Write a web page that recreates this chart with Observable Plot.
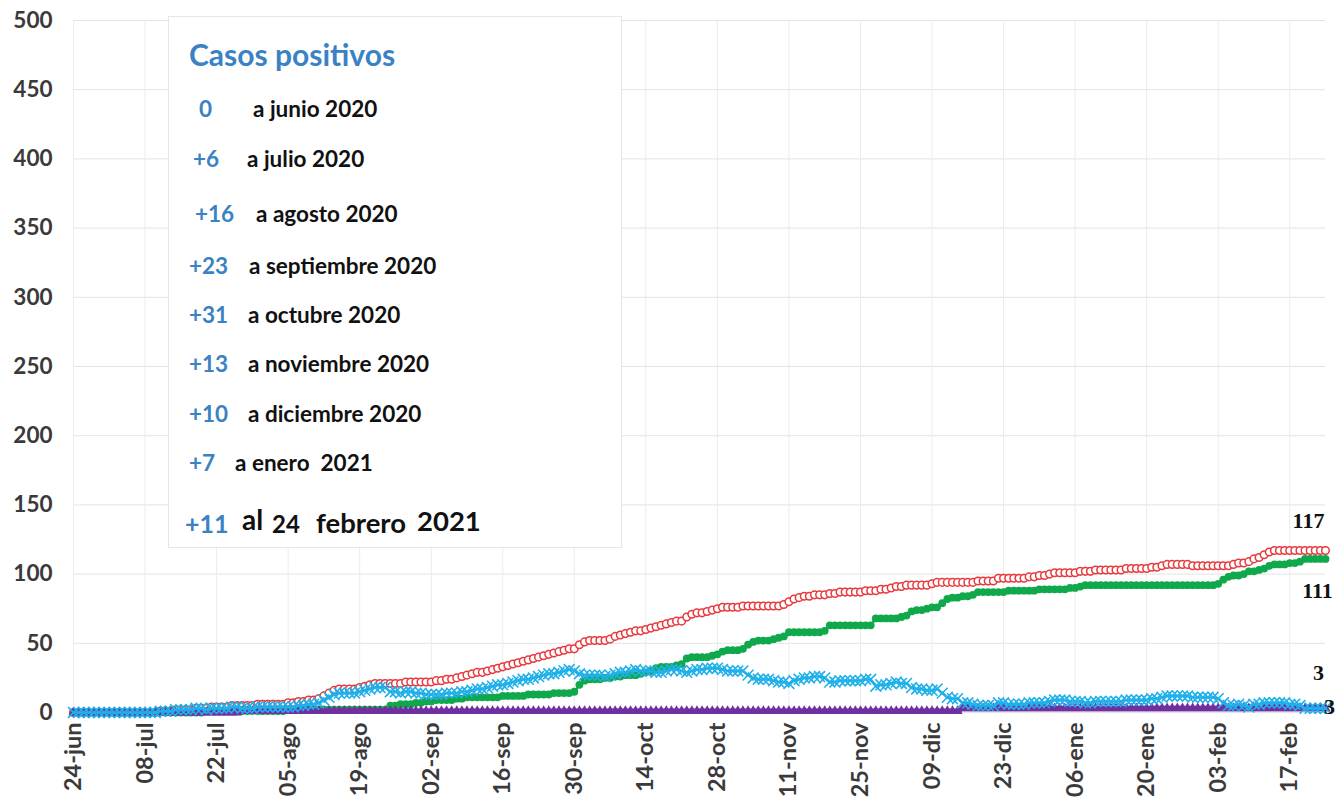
<!DOCTYPE html>
<html>
<head>
<meta charset="utf-8">
<script src="https://cdn.jsdelivr.net/npm/d3@7"></script>
<script src="https://cdn.jsdelivr.net/npm/@observablehq/plot@0.6"></script>
<style>
  body { margin: 0; background: #fff; }
  #wrap { position: relative; width: 1338px; height: 798px; overflow: hidden; }
  #wrap svg.overlay { position: absolute; left: 0; top: 0; pointer-events: none; }
  g[aria-label="x-axis tick label"] text, g[aria-label="y-axis tick label"] text { font-weight: bold; }
</style>
</head>
<body>
<div id="wrap"></div>
<script>
// ---------- DATA (daily, 24-jun-2020 .. 24-feb-2021) ----------
const startDate = "2020-06-24";
const endDate = "2021-02-24";

// Casos positivos acumulados (rojo, círculos abiertos)
const casos = [
  0,0,0,0,0,0,0,
  0,0,0,0,0,0,0,0,0,0,1,1,1,2,2,2,2,3,3,3,4,4,4,4,5,5,5,5,5,6,6,
  6,6,6,6,7,7,8,8,9,9,10,12,14,16,17,17,17,17,18,19,20,21,21,21,21,21,21,22,22,22,22,
  22,22,23,23,24,24,25,26,27,28,29,29,30,31,32,33,34,35,36,37,38,39,40,41,42,43,44,45,46,46,
  49,51,52,52,52,52,53,55,56,57,58,59,59,60,61,62,63,64,65,66,66,69,71,72,72,73,74,75,76,76,76,
  76,77,77,77,77,77,77,77,77,78,80,82,83,84,84,85,85,85,86,86,87,87,87,87,87,88,88,88,89,89,
  90,91,91,92,92,92,92,92,93,94,94,94,94,94,94,94,94,95,95,95,95,97,97,97,97,97,97,98,98,99,99,
  100,101,101,101,101,101,102,102,102,103,103,103,103,103,103,104,104,104,104,104,105,105,106,107,107,107,107,107,106,106,106,
  106,106,106,106,106,107,108,108,109,111,112,114,116,117,117,117,117,117,117,117,117,117,117,117
];

// Recuperados (verde, círculos llenos)
const recuperados = [
  0,0,0,0,0,0,0,
  0,0,0,0,0,0,0,0,0,0,0,0,0,0,0,0,0,0,0,1,1,1,1,1,1,1,1,1,1,1,1,
  1,1,1,1,2,2,2,2,2,2,2,2,2,2,2,2,2,2,2,2,2,2,2,2,5,5,6,6,6,7,7,
  8,8,9,9,9,9,10,10,11,11,11,11,11,11,11,12,12,12,12,12,13,13,13,13,13,14,14,14,14,15,
  20,23,24,24,24,25,25,26,26,27,27,27,28,29,30,32,33,33,33,34,35,39,40,40,40,40,41,42,44,45,45,
  45,46,49,51,52,52,52,53,54,55,58,58,58,58,58,58,58,59,63,63,63,63,63,63,63,63,63,68,68,68,
  68,68,69,70,73,74,74,75,76,76,79,82,83,83,84,84,85,87,87,87,87,87,87,88,88,88,88,88,88,89,89,
  89,89,89,89,90,90,91,92,92,92,92,92,92,92,92,92,92,92,92,92,92,92,92,92,92,92,92,92,92,92,92,
  92,92,93,96,98,99,99,100,102,102,103,104,106,107,107,107,108,108,109,111,111,111,111,111
];

// Activos (celeste, cruces)
const activos = [
  0,0,0,0,0,0,0,
  0,0,0,0,0,0,0,0,0,0,1,1,1,2,2,2,2,3,3,2,3,3,3,3,4,4,3,3,3,4,4,
  4,4,4,4,4,4,5,5,6,6,7,9,11,13,14,14,14,14,15,16,17,18,18,18,15,15,14,15,15,14,14,
  13,13,13,13,14,14,14,15,15,16,17,17,18,19,20,20,21,22,23,24,24,25,26,27,28,28,29,30,31,30,
  28,27,27,27,27,26,27,28,29,29,30,31,30,30,30,29,29,30,31,31,30,29,30,31,31,32,32,32,31,30,30,
  30,30,27,25,24,24,24,23,22,22,21,23,24,25,25,26,26,25,22,22,23,23,23,23,23,24,24,19,20,20,
  21,22,21,21,18,17,17,16,16,17,14,11,10,10,7,7,6,5,5,5,5,7,7,6,6,6,6,7,7,7,7,
  8,9,9,9,8,8,8,7,7,8,8,8,8,8,8,9,9,9,9,9,10,10,11,12,12,12,12,12,11,11,11,
  11,11,10,7,5,5,6,5,4,6,6,7,7,7,7,7,6,6,5,3,3,3,3,3
];

// Fallecidos (morado, triángulos)
const fallecidos = [
  0,0,0,0,0,0,0,
  0,0,0,0,0,0,0,0,0,0,0,0,0,0,0,0,0,0,0,0,0,0,0,0,0,0,1,1,1,1,1,
  1,1,1,1,1,1,1,1,1,1,1,1,1,1,1,1,1,1,1,1,1,1,1,1,1,1,1,1,1,1,1,
  1,1,1,1,1,1,1,1,1,1,1,1,1,1,1,1,1,1,1,1,1,1,1,1,1,1,1,1,1,1,
  1,1,1,1,1,1,1,1,1,1,1,1,1,1,1,1,1,1,1,1,1,1,1,1,1,1,1,1,1,1,1,
  1,1,1,1,1,1,1,1,1,1,1,1,1,1,1,1,1,1,1,1,1,1,1,1,1,1,1,1,1,1,
  1,1,1,1,1,1,1,1,1,1,1,1,1,1,3,3,3,3,3,3,3,3,3,3,3,3,3,3,3,3,3,
  3,3,3,3,3,3,3,3,3,3,3,3,3,3,3,3,3,3,3,3,3,3,3,3,3,3,3,3,3,3,3,
  3,3,3,3,3,3,3,3,3,3,3,3,3,3,3,3,3,3,3,3,3,3,3,3
];

// Ticks
const tickDates = ["2020-06-24","2020-07-08","2020-07-22","2020-08-05","2020-08-19","2020-09-02",
  "2020-09-16","2020-09-30","2020-10-14","2020-10-28","2020-11-11","2020-11-25","2020-12-09",
  "2020-12-23","2021-01-06","2021-01-20","2021-02-03","2021-02-17"];
const tickLabels = ["24-jun","08-jul","22-jul","05-ago","19-ago","02-sep","16-sep","30-sep","14-oct",
  "28-oct","11-nov","25-nov","09-dic","23-dic","06-ene","20-ene","03-feb","17-feb"];
const yTicks = [0,50,100,150,200,250,300,350,400,450,500];

// Legend text box
const legendTitle = "Casos positivos";
const legendNums = ["0","+6","+16","+23","+31","+13","+10","+7"];
const legendTexts = ["a junio 2020","a julio 2020","a agosto 2020","a septiembre 2020","a octubre 2020",
  "a noviembre 2020","a diciembre 2020","a enero  2021"];
const legendLast = ["+11","al","24","febrero","2021"];

// ---------- BUILD ----------
const parse = d3.utcParse("%Y-%m-%d");
const dates = d3.utcDay.range(parse(startDate), d3.utcDay.offset(parse(endDate), 1));
if ([casos, recuperados, activos, fallecidos].some(a => a.length !== dates.length)) {
  console.error("length mismatch", dates.length, casos.length, recuperados.length, activos.length, fallecidos.length);
}
const rows = dates.map((d, i) => ({date: d, casos: casos[i], recuperados: recuperados[i], activos: activos[i], fallecidos: fallecidos[i]}));
const last = rows[rows.length - 1];
const tickObjs = tickDates.map(parse);
const labelMap = new Map(tickObjs.map((d, i) => [+d, tickLabels[i]]));

const RED = "#e8383d", GREEN = "#0fa84a", CYAN = "#1fb0ea", PURPLE = "#7030a0";
const W = 1338, H = 798;
const endFont = {fontSize: 22, fontWeight: "bold", fontFamily: "Liberation Serif, serif", fill: "#111"};

const chart = Plot.plot({
  width: W, height: H,
  marginLeft: 73, marginRight: 13, marginTop: 20, marginBottom: 86,
  x: {type: "utc", domain: [parse(startDate), parse(endDate)]},
  y: {domain: [0, 500]},
  style: {fontFamily: "Lato, sans-serif", background: "white", color: "#404040", overflow: "visible"},
  marks: [
    Plot.gridY(yTicks, {stroke: "#e3e3e3", strokeOpacity: 1}),
    Plot.gridX(tickObjs, {stroke: "#ececec", strokeOpacity: 1}),
    Plot.axisY(yTicks, {tickSize: 0, tickPadding: 21, fontSize: 22.5, fontWeight: "bold", fill: "#3a3a3a", label: null}),
    Plot.axisX(tickObjs, {tickFormat: d => labelMap.get(+d), tickRotate: -90, tickSize: 0, tickPadding: 10,
      fontSize: 23.5, fontWeight: "bold", fill: "#3a3a3a", label: null}),
    // Casos
    Plot.line(rows, {x: "date", y: "casos", stroke: RED, strokeWidth: 1.3}),
    Plot.dot(rows, {x: "date", y: "casos", fill: "white", stroke: RED, strokeWidth: 1.5, r: 3.8}),
    // Recuperados
    Plot.line(rows, {x: "date", y: "recuperados", stroke: GREEN, strokeWidth: 2.2}),
    Plot.dot(rows, {x: "date", y: "recuperados", fill: GREEN, r: 3.9}),
    // Fallecidos
    Plot.line(rows, {x: "date", y: "fallecidos", stroke: PURPLE, strokeWidth: 5}),
    Plot.dot(rows, {x: "date", y: "fallecidos", symbol: "triangle", fill: PURPLE, r: 3.8}),
    // Activos
    Plot.line(rows, {x: "date", y: "activos", stroke: CYAN, strokeWidth: 2.2}),
    Plot.dot(rows, {x: "date", y: "activos", symbol: "times", stroke: CYAN, strokeWidth: 1.6, r: 5}),
    // End labels
    Plot.text([last], {x: "date", y: "casos", text: d => String(d.casos), dx: -17, dy: -30, ...endFont}),
    Plot.text([last], {x: "date", y: "recuperados", text: d => String(d.recuperados), dx: -8, dy: 32, ...endFont}),
    Plot.text([last], {x: "date", y: "activos", text: d => String(d.activos), dx: -7, dy: -35, ...endFont}),
    Plot.text([last], {x: "date", y: "fallecidos", text: d => String(d.fallecidos), dx: 4, dy: -1, ...endFont})
  ]
});
const wrap = document.getElementById("wrap");
wrap.appendChild(chart);

// ---------- Legend / annotation box (overlay) ----------
const BLUE = "#3a82c4";
const ov = d3.select(wrap).append("svg").attr("class", "overlay")
  .attr("width", W).attr("height", H)
  .style("font-family", "Lato, sans-serif").style("font-weight", "bold");
ov.append("rect").attr("x", 168.5).attr("y", 16.5).attr("width", 453).attr("height", 531)
  .attr("fill", "#fff").attr("stroke", "#e6e6e6");
ov.append("text").attr("x", 189).attr("y", 66).attr("fill", BLUE).attr("font-size", 30).text(legendTitle);

const numX = [199, 193, 195, 189, 189, 189, 189, 189];
const txtX = [253, 247, 256, 249, 248, 248, 248, 235];
const baseY = [117, 167, 222, 274, 323, 372, 422, 471];
legendNums.forEach((n, i) => {
  ov.append("text").attr("x", numX[i]).attr("y", baseY[i]).attr("fill", BLUE).attr("font-size", 22.5).text(n);
  ov.append("text").attr("x", txtX[i]).attr("y", baseY[i]).attr("fill", "#111").attr("font-size", 22.5)
    .style("white-space", "pre").text(legendTexts[i]);
});
const lastX = [185, 242, 272, 316, 417];
const lastSize = [25, 28, 24, 27.5, 27.5];
const lastFill = [BLUE, "#111", "#111", "#111", "#111"];
const lastBase = [533, 530, 533, 533, 531];
legendLast.forEach((t, i) => {
  ov.append("text").attr("x", lastX[i]).attr("y", lastBase[i]).attr("fill", lastFill[i])
    .attr("font-size", lastSize[i]).text(t);
});
</script>
</body>
</html>
